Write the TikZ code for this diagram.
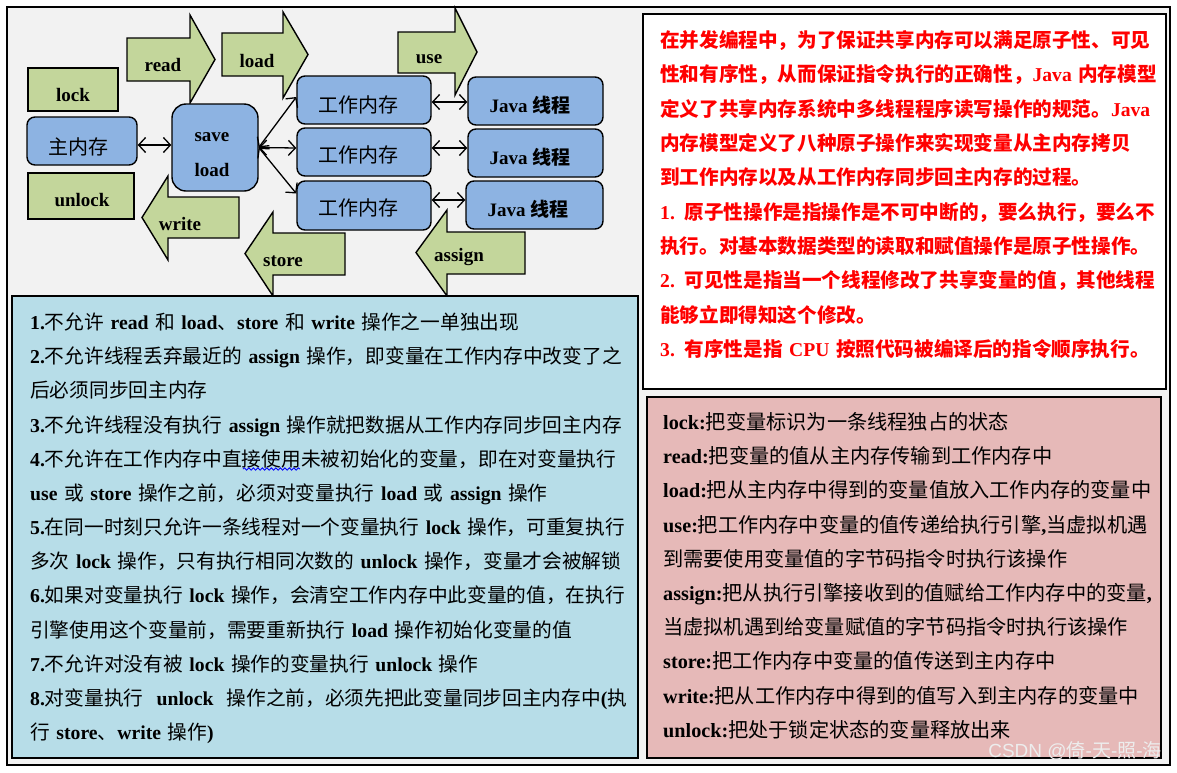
\documentclass[tikz,border=0pt]{standalone}
\usepackage{fontspec}
\setmainfont{Liberation Serif}
\newfontfamily\cjkR{Noto Sans CJK SC}
\newfontfamily\wmfont{Liberation Sans}
\usetikzlibrary{arrows.meta,decorations.pathmorphing}
\definecolor{bgc}{HTML}{F2F2F2}
\definecolor{grn}{HTML}{C3D69B}
\definecolor{blu}{HTML}{8DB3E2}
\definecolor{panelb}{HTML}{B7DDE8}
\definecolor{panelp}{HTML}{E6B9B8}
\definecolor{redtxt}{HTML}{FF0000}
\definecolor{wmc}{HTML}{EDEDED}
% automatic switching between Latin and CJK fonts
\newXeTeXintercharclass\CJKcls
\newcount\cjkc
\cjkc="2E80
\loop \XeTeXcharclass\cjkc=\CJKcls \advance\cjkc by 1 \ifnum\cjkc<"A000 \repeat
\cjkc="FF00
\loop \XeTeXcharclass\cjkc=\CJKcls \advance\cjkc by 1 \ifnum\cjkc<"FFF0 \repeat
\def\cjkfont{\cjkR\mdseries}
\def\latfont{\rmfamily\bfseries}
\XeTeXinterchartoks 0 \CJKcls = {\cjkfont}
\XeTeXinterchartoks 4095 \CJKcls = {\cjkfont}
\XeTeXinterchartoks \CJKcls 0 = {\latfont}
\XeTeXinterchartoks \CJKcls 4095 = {\latfont}
\XeTeXinterchartokenstate=1
\newcommand\redcjk{\def\cjkfont{\cjkR\bfseries}}
\newcommand\boldcjk{\def\cjkfont{\cjkR\bfseries}}
\newcommand\wmsetup{\def\latfont{\wmfont\mdseries}\def\cjkfont{\cjkR\mdseries}\wmfont\mdseries}
\begin{document}
\begin{tikzpicture}[x=1pt,y=-1pt,
  gbox/.style={draw=black, line width=1.5pt, fill=grn, inner sep=0pt},
  bbox/.style={draw=black, line width=1.4pt, fill=blu, rounded corners=8pt, inner sep=0pt},
  blk/.style={draw=black, line width=1.4pt, fill=grn, line join=miter},
  lbl/.style={inner sep=0pt, font=\fontsize{19}{22}\selectfont\bfseries},
  dbl/.style={{Straight Barb[length=7pt,width=15pt]}-{Straight Barb[length=7pt,width=15pt]}, line width=1.3pt},
  panel/.style={draw=black, line width=1.7pt, anchor=north west, inner sep=0pt},
  para/.style={anchor=base west, align=left, inner sep=0pt}]
\useasboundingbox (0,0) rectangle (1177,772);
\fill[white] (0,0) rectangle (1177,772);
% outer frame
\draw[line width=2pt, fill=bgc] (6.5,6.5) rectangle (1170,765);

% block arrows
\draw[blk] (127,38) -- (190,38) -- (190,15) -- (215,59.5) -- (190,103) -- (190,81) -- (127,81) -- cycle;
\draw[blk] (222,33) -- (283,33) -- (283,12) -- (308,54.5) -- (283,98) -- (283,76) -- (222,76) -- cycle;
\draw[blk] (398,32) -- (455,32) -- (455,8) -- (477,52) -- (455,95) -- (455,73) -- (398,73) -- cycle;
\draw[blk] (239,197) -- (168,197) -- (168,176) -- (142,217.5) -- (168,260) -- (168,238) -- (239,238) -- cycle;
\draw[blk] (345,233) -- (273,233) -- (273,212) -- (245,253.5) -- (273,296) -- (273,275) -- (345,275) -- cycle;
\draw[blk] (525,232) -- (447,232) -- (447,210) -- (416,252.5) -- (447,296) -- (447,274) -- (525,274) -- cycle;
\node[lbl] (tread) at (163,65) {read};
\node[lbl] (tload) at (257,61) {load};
\node[lbl] (tuse) at (429,59) {use};
\node[lbl] (twrite) at (180,224) {write};
\node[lbl] (tstore) at (283,261) {store};
\node[lbl] (tassign) at (459,257) {assign};

% boxes
\node[gbox, minimum width=90pt, minimum height=43pt] (lockb) at (73,89.5) {};
\node[gbox, minimum width=106pt, minimum height=46pt] (unlockb) at (81,196) {};
\node[bbox, minimum width=110pt, minimum height=48pt] (zhu) at (82,141) {};
\node[bbox, rounded corners=14pt, minimum width=86pt, minimum height=87pt] (sl) at (215,147.5) {};
\node[bbox, minimum width=134pt, minimum height=48pt] (w1) at (364,100) {};
\node[bbox, minimum width=134pt, minimum height=48pt] (w2) at (364,152) {};
\node[bbox, minimum width=134pt, minimum height=49pt] (w3) at (364,205.5) {};
\node[bbox, minimum width=135pt, minimum height=48pt] (j1) at (535.5,101) {};
\node[bbox, minimum width=135pt, minimum height=48pt] (j2) at (535.5,153) {};
\node[bbox, minimum width=137pt, minimum height=48pt] (j3) at (534.5,205) {};

\node[lbl] (tlock) at (73,95) {lock};
\node[lbl] (tunlock) at (82,200) {unlock};
\node[lbl, font=\fontsize{20}{22}\selectfont\bfseries] (tzhu) at (78,147) {主内存};
\node[lbl, font=\fontsize{20}{22}\selectfont\bfseries] (tw1) at (358,105) {工作内存};
\node[lbl, font=\fontsize{20}{22}\selectfont\bfseries] (tw2) at (358,155) {工作内存};
\node[lbl, font=\fontsize{20}{22}\selectfont\bfseries] (tw3) at (358,208) {工作内存};
\node[lbl] (tsave) at (212,137) {save};
\node[lbl] (tsload) at (212,170) {load};
\node[lbl, font=\fontsize{19}{22}\selectfont\bfseries\boldcjk] (tj1) at (530,105) {Java 线程};
\node[lbl, font=\fontsize{19}{22}\selectfont\bfseries\boldcjk] (tj2) at (530,157) {Java 线程};
\node[lbl, font=\fontsize{19}{22}\selectfont\bfseries\boldcjk] (tj3) at (528,209) {Java 线程};

% connectors
\draw[dbl] ([yshift=-4pt]zhu.east) -- ([yshift=-4pt]zhu.east -| sl.west);
\draw[dbl] (sl.east) -- ([yshift=3pt]w1.west);
\draw[dbl] (sl.east) -- ([yshift=4pt]w2.west);
\draw[dbl] (sl.east) -- ([yshift=12pt]w3.west);
\draw[dbl] ([yshift=-2pt]w1.east) -- ([yshift=-2pt]w1.east -| j1.west);
\draw[dbl] ([yshift=4pt]w2.east) -- ([yshift=4pt]w2.east -| j2.west);
\draw[dbl] ([yshift=5.5pt]w3.east) -- ([yshift=5.5pt]w3.east -| j3.west);

% panels
\node[panel, fill=white, minimum width=523pt, minimum height=375pt] (rbox) at (642,13) {};
\node[panel, fill=panelb, minimum width=626pt, minimum height=462pt] (bpanel) at (11,295) {};
\node[panel, fill=panelp, minimum width=514pt, minimum height=361pt] (ppanel) at (646,396) {};

\node[para, text width=540pt, text=redtxt, font=\fontsize{19.6}{34.33}\selectfont\bfseries\redcjk] (rtxt) at (660,47.5) {在并发编程中，为了保证共享内存可以满足原子性、可见\\
性和有序性，从而保证指令执行的正确性，Java 内存模型\\
定义了共享内存系统中多线程程序读写操作的规范。Java\\
内存模型定义了八种原子操作来实现变量从主内存拷贝\\
到工作内存以及从工作内存同步回主内存的过程。\\
1. 原子性操作是指操作是不可中断的，要么执行，要么不\\
执行。对基本数据类型的读取和赋值操作是原子性操作。\\
2. 可见性是指当一个线程修改了共享变量的值，其他线程\\
能够立即得知这个修改。\\
3. 有序性是指 CPU 按照代码被编译后的指令顺序执行。};

\node[para, text width=640pt, font=\fontsize{19.7}{34.17}\selectfont\bfseries] (btxt) at (30,329.5) {1.不允许 read 和 load、store 和 write 操作之一单独出现\\
2.不允许线程丢弃最近的 assign 操作，即变量在工作内存中改变了之\\
后必须同步回主内存\\
3.不允许线程没有执行 assign 操作就把数据从工作内存同步回主内存\\
4.不允许在工作内存中直接使用未被初始化的变量，即在对变量执行\\
use 或 store 操作之前，必须对变量执行 load 或 assign 操作\\
5.在同一时刻只允许一条线程对一个变量执行 lock 操作，可重复执行\\
多次 lock 操作，只有执行相同次数的 unlock 操作，变量才会被解锁\\
6.如果对变量执行 lock 操作，会清空工作内存中此变量的值，在执行\\
引擎使用这个变量前，需要重新执行 load 操作初始化变量的值\\
7.不允许对没有被 lock 操作的变量执行 unlock 操作\\
8.对变量执行 \ unlock \ 操作之前，必须先把此变量同步回主内存中(执\\
行 store、write 操作)};
\draw[blue, line width=0.8pt, decorate, decoration={snake, amplitude=1.2pt, segment length=4.5pt}] (243,469) -- (300,469);

\node[para, text width=540pt, font=\fontsize{20.2}{34.2}\selectfont\bfseries] (ptxt) at (663,429.5) {lock:把变量标识为一条线程独占的状态\\
read:把变量的值从主内存传输到工作内存中\\
load:把从主内存中得到的变量值放入工作内存的变量中\\
use:把工作内存中变量的值传递给执行引擎,当虚拟机遇\\
到需要使用变量值的字节码指令时执行该操作\\
assign:把从执行引擎接收到的值赋给工作内存中的变量,\\
当虚拟机遇到给变量赋值的字节码指令时执行该操作\\
store:把工作内存中变量的值传送到主内存中\\
write:把从工作内存中得到的值写入到主内存的变量中\\
unlock:把处于锁定状态的变量释放出来};

\node[inner sep=0pt, text=wmc, font=\fontsize{19}{22}\selectfont\wmsetup] (wm) at (1075,751) {CSDN @倚-天-照-海};
\end{tikzpicture}
\end{document}
